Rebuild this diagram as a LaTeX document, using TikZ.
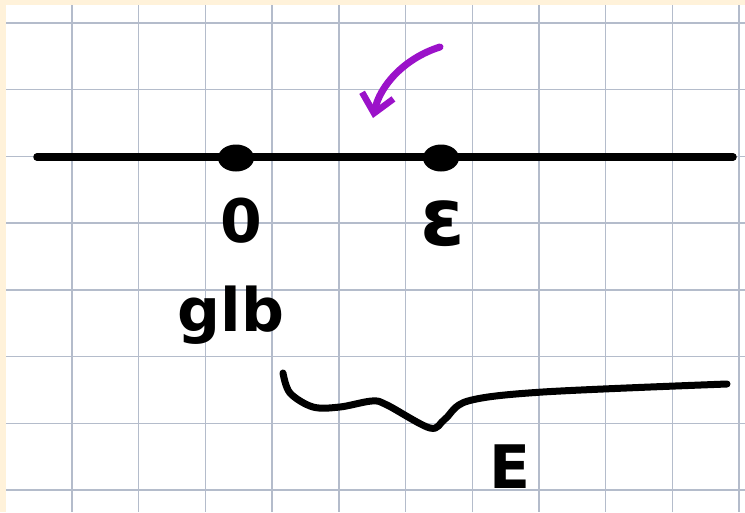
\documentclass[tikz,border=0pt]{standalone}
\usepackage{fontspec}
\setmainfont{DejaVu Sans}
\usetikzlibrary{arrows.meta,shapes.geometric}
\definecolor{cream}{HTML}{FFF2DA}
\definecolor{gridc}{HTML}{B4BCCB}
\definecolor{purp}{HTML}{9B12C9}
\tikzset{
  gridline/.style={draw=gridc, line width=1.4},
  ink/.style={draw=black, line width=7.5, line cap=round, line join=round},
  dotmark/.style={ellipse, fill=black, minimum width=36, minimum height=27, inner sep=0},
  hand/.style={font=\fontsize{60}{60}\selectfont\bfseries, inner sep=0, anchor=base},
}
\begin{document}
\begin{tikzpicture}[x=1pt,y=-1pt]
\useasboundingbox (0,0) rectangle (745,512);
\fill[cream] (0,0) rectangle (745,512);
\fill[white] (6,5) rectangle (745,512);
\foreach \i in {0,...,10} {\draw[gridline] ({72+66.7*\i},5) -- ({72+66.7*\i},512);}
\foreach \j in {0,...,7} {\draw[gridline] (6,{23+66.7*\j}) -- (745,{23+66.7*\j});}
% number line
\coordinate (lineL) at (37,157);
\coordinate (lineR) at (733,157);
\draw[ink] (lineL) -- (lineR);
\node[dotmark] (dotzero) at (236,158) {};
\node[dotmark] (doteps) at (441,158) {};
% labels
\node[hand] (labzero) at (241,242) {0};
\node[hand, font=\fontsize{80}{80}\selectfont\bfseries] (labeps) at (443,245) {ε};
\node[hand] (labglb) at (231,331) {glb};
\node[hand] (labE) at (510,488) {E};
% purple arrow
\coordinate (arrS) at (440,47);
\coordinate (arrT) at (373,118);
\draw[draw=purp, line width=7, line cap=round, -{Straight Barb[length=18pt,width=32pt,line width=6.5pt]}]
  (arrS) .. controls (405,58) and (380,85) .. (arrT);
% brace
\draw[ink, line width=7] plot[smooth, tension=0.55] coordinates {(283,373) (290,393) (313,407) (340,407) (372,401) (387,405) (430,428) (445,419) (468,401) (543,392) (727,384)};
\end{tikzpicture}
\end{document}
